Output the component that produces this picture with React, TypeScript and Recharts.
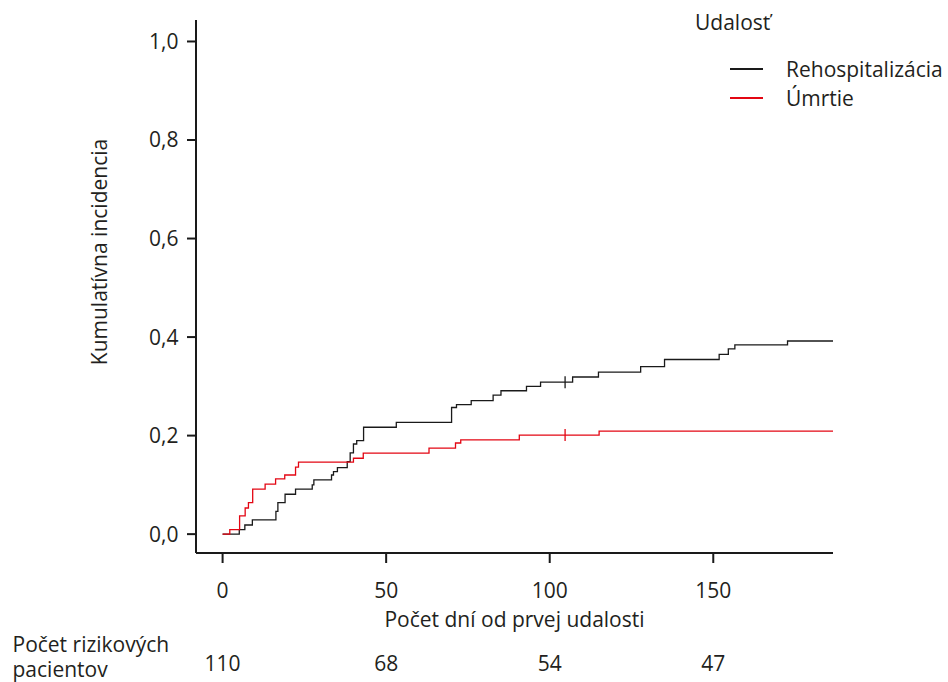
import React from 'react';
import { ComposedChart, Line, Scatter, XAxis, YAxis, Legend } from 'recharts';

// ---- data ----
const rehospDays = [0, 5.1, 6.8, 9.1, 16.3, 16.9, 19.1, 22.3, 27.4, 27.9, 33.3, 33.9, 35.1, 38.1, 39.0, 40.0, 41.0, 43.1, 53.1, 70.0, 71.5, 76.0, 82.7, 85.1, 92.9, 97.2, 107.0, 114.9, 127.8, 135.1, 151.8, 154.6, 156.6, 172.7, 186.6];
const rehospIncidence = [0, 0.009, 0.0185, 0.029, 0.046, 0.064, 0.081, 0.0915, 0.1, 0.11, 0.12, 0.127, 0.135, 0.147, 0.165, 0.183, 0.19, 0.217, 0.227, 0.257, 0.263, 0.271, 0.282, 0.291, 0.3, 0.3085, 0.319, 0.329, 0.34, 0.3545, 0.365, 0.376, 0.384, 0.392, 0.392];
const deathDays = [0, 2.2, 5.2, 6.9, 7.9, 9.2, 13.0, 16.2, 19.0, 22.3, 23.2, 40.0, 43.0, 63.1, 71.2, 72.8, 90.7, 115.1, 186.6];
const deathIncidence = [0, 0.009, 0.037, 0.053, 0.064, 0.0915, 0.1016, 0.112, 0.12, 0.136, 0.146, 0.154, 0.1645, 0.1747, 0.185, 0.1915, 0.201, 0.209, 0.209];
const censorDays = [104.7];
const rehospCensorIncidence = [0.3085];
const deathCensorIncidence = [0.201];

const xTicks = [0, 50, 100, 150];
const yTicks = [0, 0.2, 0.4, 0.6, 0.8, 1.0];
const atRiskCounts = [110, 68, 54, 47];
const seriesNames = ['Rehospitalizácia', 'Úmrtie'];
const seriesColors = ['#1a1a1a', '#e30613'];
const legendTitle = 'Udalosť';
const xTitle = 'Počet dní od prvej udalosti';
const yTitle = 'Kumulatívna incidencia';
const riskTitle = ['Počet rizikových', 'pacientov'];

const zip = (t: number[], v: number[]) => t.map((d, i) => ({ t: d, v: v[i] }));
const rehospData = zip(rehospDays, rehospIncidence);
const deathData = zip(deathDays, deathIncidence);
const rehospCensor = zip(censorDays, rehospCensorIncidence);
const deathCensor = zip(censorDays, deathCensorIncidence);

const FONT = '"Open Sans", sans-serif';
const FS = 21;
const TXT = '#231f20';
const AX = '#1a1a1a';

const xDomain: [number, number] = [-8.13, 186.6];
const yDomain: [number, number] = [-0.0383, 1.0436];

const tickStyle = { fontSize: FS, fill: TXT, fontFamily: FONT };

const XTitle = (props: any) => {
  const vb = props.viewBox || {};
  return (
    <text x={vb.x + vb.width / 2} y={vb.y + 74} textAnchor="middle" fontSize={FS} fill={TXT} fontFamily={FONT}>
      {xTitle}
    </text>
  );
};

const YTitle = (props: any) => {
  const vb = props.viewBox || {};
  const x = vb.x - 9;
  const y = vb.y + 232;
  return (
    <text x={x} y={y} transform={`rotate(-90, ${x}, ${y})`} textAnchor="middle" fontSize={FS} fill={TXT} fontFamily={FONT}>
      {yTitle}
    </text>
  );
};

const RiskTitle = (props: any) => {
  const vb = props.viewBox || {};
  const x = vb.x - 183.5;
  return (
    <text fontSize={FS} fill={TXT} fontFamily={FONT}>
      <tspan x={x} y={vb.y + 9}>{riskTitle[0]}</tspan>
      <tspan x={x} y={vb.y + 34}>{riskTitle[1]}</tspan>
    </text>
  );
};

const makeCensor = (color: string) => (props: any) => {
  const { cx, cy } = props;
  return <line x1={cx} x2={cx} y1={cy - 6} y2={cy + 6} stroke={color} strokeWidth={1.3} />;
};

const LegendContent = (props: any) => {
  const items = (props.payload || []).filter((e: any) => seriesNames.includes(e.value));
  return (
    <svg width={258} height={120} style={{ display: 'block' }}>
      <text x={5} y={30} fontSize={FS} fill={TXT} fontFamily={FONT}>{legendTitle}</text>
      {items.map((e: any, i: number) => (
        <g key={e.value}>
          <line x1={40} x2={73} y1={69 + 29 * i} y2={69 + 29 * i} stroke={e.color} strokeWidth={1.8} />
          <text x={96} y={77 + 29 * i} fontSize={FS} fill={TXT} fontFamily={FONT}>{e.value}</text>
        </g>
      ))}
    </svg>
  );
};

export default function App() {
  return (
    <div style={{ position: 'absolute', left: 0, top: 0, width: 948, height: 682, background: '#fff' }}>
      <ComposedChart width={948} height={682} margin={{ top: 20, right: 115, bottom: 0, left: 116 }} style={{ fontFamily: FONT }}>
        <XAxis
          xAxisId="main"
          dataKey="t"
          type="number"
          domain={xDomain}
          allowDataOverflow
          ticks={xTicks}
          interval={0}
          height={90}
          tickSize={10}
          tickMargin={20}
          axisLine={{ stroke: AX, strokeWidth: 2 }}
          tickLine={{ stroke: AX, strokeWidth: 2 }}
          tick={tickStyle}
          label={{ content: XTitle }}
        />
        <XAxis
          xAxisId="risk"
          dataKey="t"
          type="number"
          domain={xDomain}
          allowDataOverflow
          ticks={xTicks}
          interval={0}
          height={39}
          tickSize={0}
          tickMargin={12.6}
          axisLine={false}
          tickLine={false}
          tick={tickStyle}
          tickFormatter={(v: number) => String(atRiskCounts[xTicks.indexOf(v)])}
          label={{ content: RiskTitle }}
        />
        <YAxis
          type="number"
          domain={yDomain}
          allowDataOverflow
          ticks={yTicks}
          interval={0}
          width={80}
          tickSize={9}
          tickMargin={8.5}
          axisLine={{ stroke: AX, strokeWidth: 2 }}
          tickLine={{ stroke: AX, strokeWidth: 2 }}
          tick={tickStyle}
          tickFormatter={(v: number) => v.toFixed(1).replace('.', ',')}
          label={{ content: YTitle }}
        />
        <Legend
          layout="horizontal"
          verticalAlign="middle"
          align="center"
          wrapperStyle={{ left: 690, top: 0, width: 258, height: 120 }}
          content={LegendContent}
        />
        <Line
          xAxisId="main"
          data={rehospData}
          dataKey="v"
          name={seriesNames[0]}
          type="stepAfter"
          stroke={seriesColors[0]}
          strokeWidth={1.3}
          dot={false}
          activeDot={false}
          isAnimationActive={false}
        />
        <Line
          xAxisId="main"
          data={deathData}
          dataKey="v"
          name={seriesNames[1]}
          type="stepAfter"
          stroke={seriesColors[1]}
          strokeWidth={1.3}
          dot={false}
          activeDot={false}
          isAnimationActive={false}
        />
        <Scatter xAxisId="main" data={rehospCensor} dataKey="v" name="censor-r" legendType="none" shape={makeCensor(seriesColors[0])} isAnimationActive={false} />
        <Scatter xAxisId="main" data={deathCensor} dataKey="v" name="censor-d" legendType="none" shape={makeCensor(seriesColors[1])} isAnimationActive={false} />
      </ComposedChart>
    </div>
  );
}
